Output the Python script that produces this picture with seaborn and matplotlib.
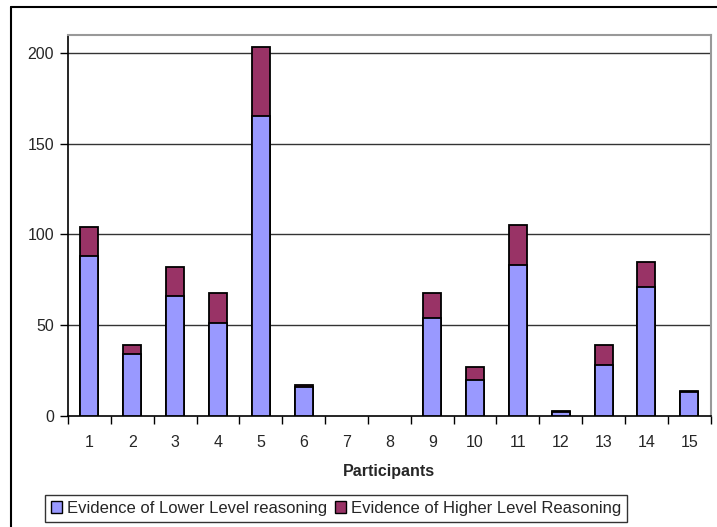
import matplotlib
matplotlib.use("Agg")
import matplotlib.pyplot as plt
import seaborn as sns
import pandas as pd
from matplotlib.lines import Line2D
from matplotlib.patches import Patch

participants = [str(i) for i in range(1, 16)]
lower_level = [88, 34, 66, 51, 165, 16, 0, 0, 54, 20, 83, 2, 28, 71, 13]
higher_level = [16, 5, 16, 17, 38, 1, 0, 0, 14, 7, 22, 1, 11, 14, 1]
series_names = ["Evidence of Lower Level reasoning", "Evidence of Higher Level Reasoning"]
y_ticks = [0, 50, 100, 150, 200]

sns.set_theme(style="white")
plt.rcParams["font.family"] = ["Liberation Sans", "DejaVu Sans"]

df = pd.DataFrame({
    "Participant": participants,
    "Lower": lower_level,
    "Total": [a + b for a, b in zip(lower_level, higher_level)],
})

fig = plt.figure(figsize=(7.17, 5.27), dpi=100)
fig.patch.set_facecolor("white")
ax = fig.add_axes([68 / 717, 1 - 416 / 527, (710.7 - 68) / 717, (416 - 34.7) / 527])

c_low = "#9999FF"
c_high = "#993366"

sns.barplot(data=df, x="Participant", y="Total", color=c_high, saturation=1,
            width=0.42, edgecolor="black", linewidth=1.3, ax=ax, zorder=3)
sns.barplot(data=df, x="Participant", y="Lower", color=c_low, saturation=1,
            width=0.42, edgecolor="black", linewidth=1.3, ax=ax, zorder=4)

# hide zero-height bars (Excel draws nothing for them)
for p in ax.patches:
    if p.get_height() == 0:
        p.set_visible(False)

ax.set_xlim(-0.5, 14.5)
ax.set_ylim(0, 210)
ax.set_yticks(y_ticks)
ax.set_yticklabels([str(v) for v in y_ticks], fontsize=11.5)
ax.set_xticks(range(15))
ax.set_xticklabels(participants, fontsize=11.5)
ax.set_xticks([i - 0.5 for i in range(16)], minor=True)
ax.tick_params(axis="x", which="major", length=0, pad=14)
ax.tick_params(axis="x", which="minor", length=6, width=1, color="black", direction="out", bottom=True)
ax.tick_params(axis="y", which="major", length=6, width=1, color="black", direction="out", left=True, pad=4)

for v in y_ticks[1:]:
    ax.axhline(v, color="#333333", linewidth=1, zorder=1)

ax.set_xlabel("Participants", fontsize=11.5, fontweight="bold", labelpad=10)
ax.set_ylabel("")

for side in ["top", "right"]:
    ax.spines[side].set_color("#999999")
    ax.spines[side].set_linewidth(1.5)
for side in ["left", "bottom"]:
    ax.spines[side].set_color("black")
    ax.spines[side].set_linewidth(1.2)

handles = [Patch(facecolor=c_low, edgecolor="black", linewidth=1),
           Patch(facecolor=c_high, edgecolor="black", linewidth=1)]
leg = fig.legend(handles, series_names, loc="center", bbox_to_anchor=(336 / 717, 1 - 508.3 / 527),
                 ncol=2, fontsize=12, frameon=True, fancybox=False, handlelength=0.65,
                 handleheight=0.65, handletextpad=0.3, columnspacing=0.5, borderpad=0.35,
                 borderaxespad=0)
leg.get_frame().set_edgecolor("black")
leg.get_frame().set_linewidth(1)

# outer chart border
fig.add_artist(Line2D([11 / 717, 11 / 717], [0, 1 - 7 / 527], transform=fig.transFigure,
                      color="black", linewidth=1.5))
fig.add_artist(Line2D([11 / 717, 1], [1 - 7 / 527, 1 - 7 / 527], transform=fig.transFigure,
                      color="black", linewidth=1.5))

fig.savefig("out.png", dpi=100)
